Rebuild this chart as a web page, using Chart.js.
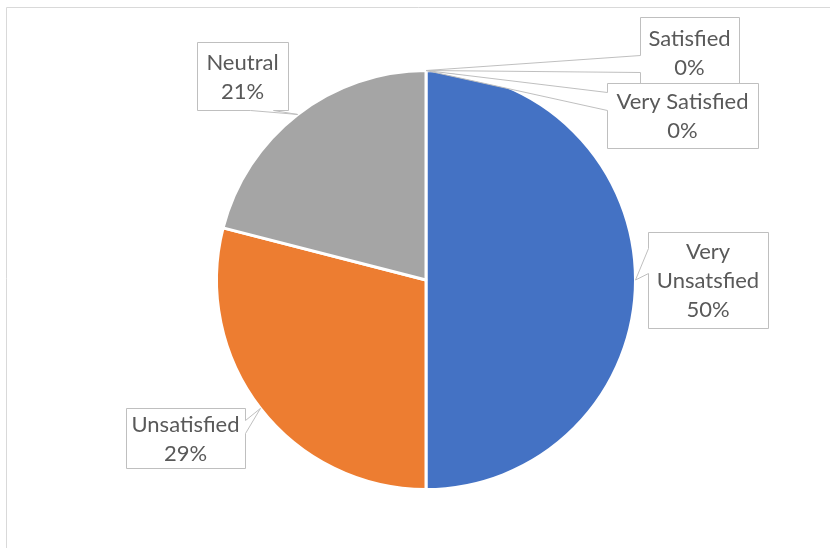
<!DOCTYPE html>
<html>
<head>
<meta charset="utf-8">
<title>Satisfaction</title>
<script src="https://cdn.jsdelivr.net/npm/chart.js@4/dist/chart.umd.min.js"></script>
<style>
    html, body {
        margin: 0;
        padding: 0;
        background: #ffffff;
    }

    #satisfaction-wrap {
        position: relative;
        width: 830px;
        height: 548px;
    }
</style>
</head>
<body>
<div id="satisfaction-wrap">
    <canvas id="satisfaction-pie" width="830" height="548"></canvas>
</div>
<script>
const categories = ["Very Unsatsfied", "Unsatisfied", "Neutral", "Satisfied", "Very Satisfied"];
const percentages = [50, 29, 21, 0, 0];
const sliceColors = ["#4472C4", "#ED7D31", "#A5A5A5", "#FFC000", "#5B9BD5"];

// Callout boxes, one per slice. "side" is the edge the pointer leaves from,
// "base" is where the pointer meets that edge.
const calloutBoxes = [
    { x: 648, y: 232, w: 120, h: 96, side: "left", base: [248, 273] },
    { x: 126, y: 408, w: 119, h: 60, side: "right", base: [420, 433] },
    { x: 197, y: 42, w: 91, h: 68, side: "bottom", base: [250, 273] },
    { x: 640, y: 17, w: 99, h: 70, side: "left", base: [55, 72] },
    { x: 607, y: 83, w: 151, h: 65, side: "left", base: [92, 110] },
];

const LABEL_FONT = "22px Lato";
const LABEL_COLOR = "#595959";
const LINE_HEIGHT = 29;

function wrapWords(ctx, text, maxWidth) {
    const words = text.split(" ");
    const lines = [];
    let current = "";

    words.forEach((word) => {
        const test = current ? `${current} ${word}` : word;

        if (current && ctx.measureText(test).width > maxWidth) {
            lines.push(current);
            current = word;
        } else {
            current = test;
        }
    });

    if (current) {
        lines.push(current);
    }

    return lines;
}

function calloutPath(ctx, box, tip) {
    const left = box.x + 0.5;
    const top = box.y + 0.5;
    const right = box.x + box.w + 0.5;
    const bottom = box.y + box.h + 0.5;
    const [b0, b1] = box.base;

    ctx.beginPath();
    ctx.moveTo(left, top);
    ctx.lineTo(right, top);

    if (box.side === "right") {
        ctx.lineTo(right, b0 + 0.5);
        ctx.lineTo(tip.x, tip.y);
        ctx.lineTo(right, b1 + 0.5);
    }

    ctx.lineTo(right, bottom);

    if (box.side === "bottom") {
        ctx.lineTo(b1 + 0.5, bottom);
        ctx.lineTo(tip.x, tip.y);
        ctx.lineTo(b0 + 0.5, bottom);
    }

    ctx.lineTo(left, bottom);

    if (box.side === "left") {
        ctx.lineTo(left, b1 + 0.5);
        ctx.lineTo(tip.x, tip.y);
        ctx.lineTo(left, b0 + 0.5);
    }

    ctx.closePath();
}

const chartFrame = {
    id: "chartFrame",
    beforeDraw(chart) {
        const { ctx } = chart;

        ctx.save();
        ctx.strokeStyle = "#D9D9D9";
        ctx.lineWidth = 1;
        ctx.beginPath();
        ctx.moveTo(6.5, chart.height + 2);
        ctx.lineTo(6.5, 7.5);
        ctx.lineTo(chart.width + 2, 7.5);
        ctx.stroke();
        ctx.restore();
    },
};

const calloutLabels = {
    id: "calloutLabels",
    afterDatasetsDraw(chart) {
        const { ctx } = chart;
        const meta = chart.getDatasetMeta(0);
        const values = chart.data.datasets[0].data;

        ctx.save();
        ctx.font = LABEL_FONT;
        ctx.textAlign = "center";
        ctx.textBaseline = "middle";

        meta.data.forEach((arc, index) => {
            const box = calloutBoxes[index];
            const { x, y, startAngle, endAngle, outerRadius } = arc.getProps(
                ["x", "y", "startAngle", "endAngle", "outerRadius"],
                true
            );
            const mid = (startAngle + endAngle) / 2;
            const tip = {
                x: x + Math.cos(mid) * outerRadius,
                y: y + Math.sin(mid) * outerRadius,
            };

            calloutPath(ctx, box, tip);
            ctx.fillStyle = "#ffffff";
            ctx.fill();
            ctx.strokeStyle = "#BFBFBF";
            ctx.lineWidth = 1;
            ctx.stroke();

            const lines = wrapWords(ctx, chart.data.labels[index], box.w - 6);
            lines.push(`${values[index]}%`);

            const centerX = box.x + box.w / 2;
            const firstY = box.y + 1 + box.h / 2 - ((lines.length - 1) * LINE_HEIGHT) / 2;

            ctx.fillStyle = LABEL_COLOR;
            lines.forEach((line, lineIndex) => {
                ctx.fillText(line, centerX, firstY + lineIndex * LINE_HEIGHT);
            });
        });

        ctx.restore();
    },
};

function initSatisfactionPie() {
    const canvas = document.getElementById("satisfaction-pie");

    new Chart(canvas, {
        type: "pie",
        data: {
            labels: categories,
            datasets: [
                {
                    data: percentages,
                    backgroundColor: sliceColors,
                    borderColor: "#ffffff",
                    borderWidth: 3,
                },
            ],
        },
        options: {
            responsive: false,
            animation: false,
            layout: {
                padding: { top: 69, bottom: 57, left: 215, right: 193 },
            },
            plugins: {
                legend: { display: false },
                tooltip: { enabled: false },
            },
        },
        plugins: [chartFrame, calloutLabels],
    });
}

document.fonts.load(LABEL_FONT).then(initSatisfactionPie, initSatisfactionPie);
</script>
</body>
</html>
